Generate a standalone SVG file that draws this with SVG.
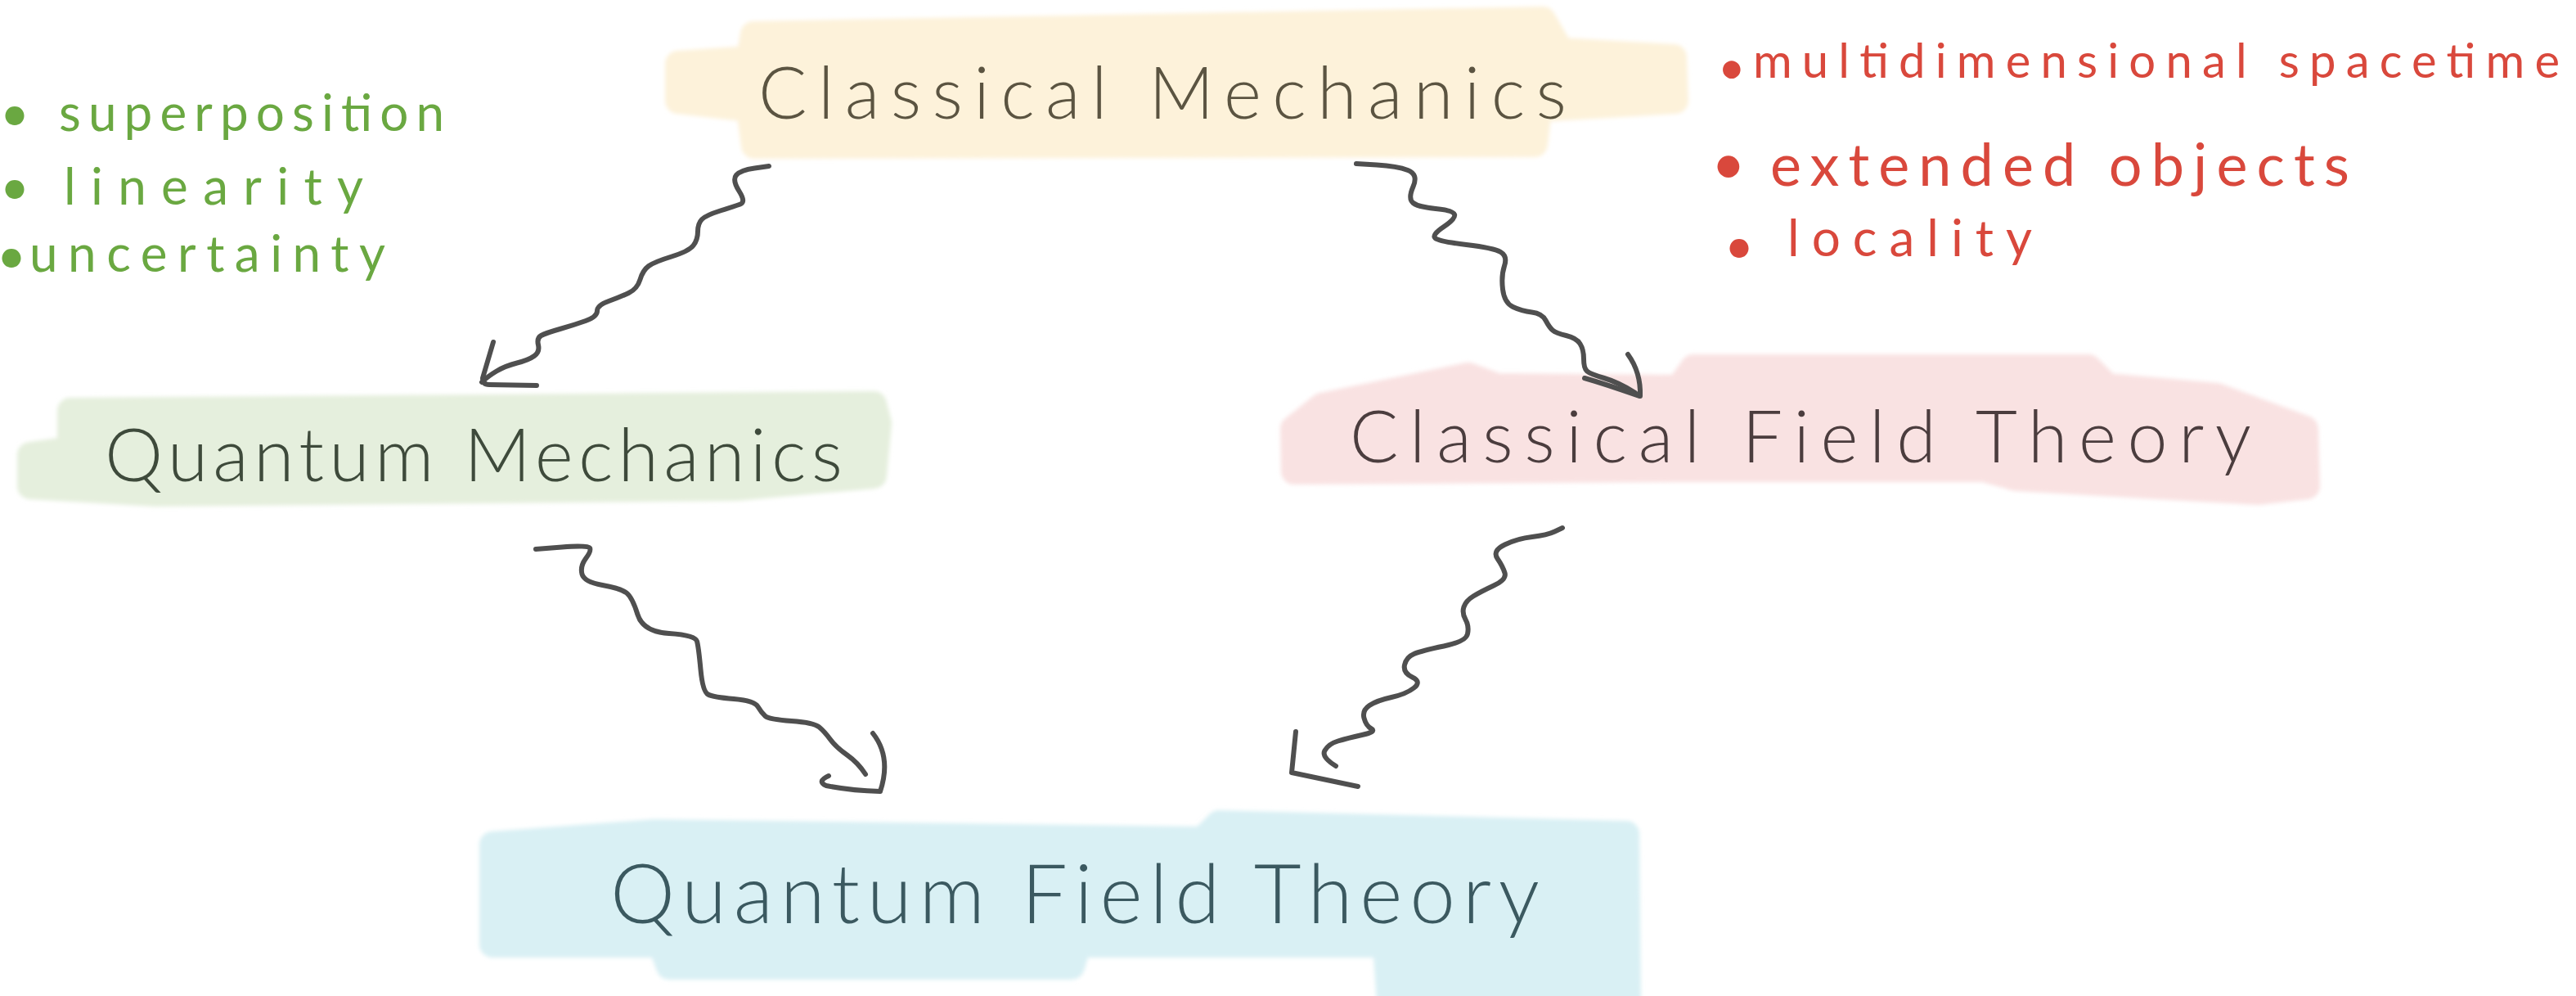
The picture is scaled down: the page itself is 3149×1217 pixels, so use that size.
<svg xmlns="http://www.w3.org/2000/svg" width="3149" height="1217" viewBox="0 0 3149 1217">
<defs>
<filter id="soft" x="-5%" y="-20%" width="110%" height="140%"><feGaussianBlur stdDeviation="2.5"/></filter>
</defs>
<style>
.blob{stroke-width:32;stroke-linejoin:round;filter:url(#soft)}
.lbl{font-family:Lato,"Open Sans","Liberation Sans",sans-serif;font-weight:300}
.note{font-family:Lato,"Open Sans","Liberation Sans",sans-serif;font-weight:400}
.wave{fill:none;stroke:#4f4f4f;stroke-width:6;stroke-linecap:round;stroke-linejoin:round}
.red{fill:#d9483c}
.green{fill:#6aa841}
</style>
<rect width="3149" height="1217" fill="#ffffff"/>
<g id="node-classical-mechanics">
<path class="blob" fill="#fdf2da" stroke="#fdf2da" d="M921,42 L1886,24 L1908,62 L2046,70 L2048,123 L1881,133 L1876,176 L922,178 L916,133 L829,123 L829,78 L916,72 Z"/>
<text class="lbl" x="927" y="145" font-size="88" fill="#5b5441" textLength="988" lengthAdjust="spacing">Classical Mechanics</text>
</g>
<g id="node-quantum-mechanics">
<path class="blob" fill="#e5efdd" stroke="#e5efdd" d="M86,502 L1068,494 L1074,517 L1068,581 L900,596 L190,603 L37,594 L37,556 L86,549 Z"/>
<text class="lbl" x="128" y="588" font-size="90" fill="#3e4a3b" textLength="902" lengthAdjust="spacing">Quantum Mechanics</text>
</g>
<g id="node-classical-field-theory">
<path class="blob" fill="#f9e2e2" stroke="#f9e2e2" d="M1616,496 L1795,459 L1830,472 L2052,474 L2070,449 L2553,449 L2576,472 L2710,484 L2818,524 L2820,594 L2760,601 L2465,584 L2425,573 L2045,573 L1582,576 L1581,524 Z"/>
<text class="lbl" x="1650" y="565" font-size="88" fill="#4b3d3e" textLength="1102" lengthAdjust="spacing">Classical Field Theory</text>
</g>
<g id="node-quantum-field-theory">
<path class="blob" fill="#d9f0f4" stroke="#d9f0f4" d="M602,1032 L800,1017 L1470,1026 L1490,1006 L1988,1019 L1990,1225 L1699,1225 L1694,1154 L1318,1154 L1310,1181 L818,1181 L808,1154 L602,1154 Z"/>
<text class="lbl" x="746" y="1128" font-size="100" fill="#3b5960" textLength="1136" lengthAdjust="spacing">Quantum Field Theory</text>
</g>
<g id="notes-quantum">
<text class="note green" font-size="62"><tspan x="0" y="160">•</tspan><tspan x="72" y="160" textLength="471" lengthAdjust="spacing">superposition</tspan></text>
<text class="note green" font-size="62"><tspan x="0" y="250">•</tspan><tspan x="78" y="250" textLength="366" lengthAdjust="spacing">linearity</tspan></text>
<text class="note green" font-size="62"><tspan x="-4" y="334">•</tspan><tspan x="36" y="332" textLength="435" lengthAdjust="spacing">uncertainty</tspan></text>
</g>
<g id="notes-field">
<text class="note red" font-size="58"><tspan x="2100" y="103">•</tspan><tspan x="2143" y="95" textLength="986" lengthAdjust="spacing">multidimensional spacetime</tspan></text>
<text class="note red" font-size="72"><tspan x="2092" y="225">•</tspan><tspan x="2164" y="227" textLength="708" lengthAdjust="spacing">extended objects</tspan></text>
<text class="note red" font-size="62"><tspan x="2108" y="322">•</tspan><tspan x="2185" y="313" textLength="299" lengthAdjust="spacing">locality</tspan></text>
</g>
<g id="connectors">
<path class="wave" d="M940,203 L922.5,205.5 Q905,208 900,214 Q895,220 903.5,233.5 Q912,247 905,249.5 Q898,252 880.5,257.5 Q863,263 858,268 Q853,273 853,283 Q853,293 847.5,300 Q842,307 821,313.5 Q800,320 793,325 Q786,330 782.5,341.5 Q779,353 768.5,358 Q758,363 744,368 Q730,373 730,380 Q730,387 716,392 Q702,397 684.5,402 Q667,407 661.5,410 Q656,413 658,421.5 Q660,430 653,435 Q646,440 632,443.5 Q618,447 607,453.5 Q596,460 589,467"/>
<path class="wave" d="M603,418 L590,462 Q590,470 598,470 L656,471"/>
<path class="wave" d="M1658,200 L1683,201.5 Q1708,203 1721,208 Q1734,213 1727.5,228 Q1721,243 1727.5,248 Q1734,253 1755,255 Q1776,257 1778,262 Q1780,267 1765,277 Q1750,287 1754.5,291 Q1759,295 1792.5,299 Q1826,303 1834.5,308 Q1843,313 1839,325 Q1835,337 1837,353.5 Q1839,370 1849.5,375 Q1860,380 1872.5,381.5 Q1885,383 1889.5,391.5 Q1894,400 1898,403.5 Q1902,407 1914.5,410 Q1927,413 1931.5,420 Q1936,427 1936,438.5 Q1936,450 1940,453.5 Q1944,457 1961,462 Q1978,467 1999,480"/>
<path class="wave" d="M1937,462 Q1965,470 2004,484 M1990,433 Q2006,455 2005,484"/>
<path class="wave" d="M655,671 L687,668.5 Q719,666 721,669.5 Q723,673 716,682.5 Q709,692 711.5,701.5 Q714,711 736.5,715 Q759,719 766,724.5 Q773,730 779.5,751 Q786,772 818,774 Q850,776 852,783.5 Q854,791 856.5,818 Q859,845 865.5,848.5 Q872,852 897,854 Q922,856 926.5,863.5 Q931,871 935.5,875 Q940,879 967.5,881 Q995,883 1001.5,888.5 Q1008,894 1015,903.5 Q1022,913 1035.5,922.5 Q1049,932 1058,946"/>
<path class="wave" d="M1013,948 Q998,955 1010,960 Q1040,966 1076,967 M1067,896 Q1090,925 1076,967"/>
<path class="wave" d="M1910,645 L1900.5,649.5 Q1891,654 1873,656 Q1855,658 1839.5,665.5 Q1824,673 1830.5,682.5 Q1837,692 1839.5,700 Q1842,708 1826,715.5 Q1810,723 1801,728.5 Q1792,734 1789.5,741.5 Q1787,749 1791.5,757 Q1796,765 1794,774.5 Q1792,784 1765,789.5 Q1738,795 1728.5,799 Q1719,803 1717,812.5 Q1715,822 1726.5,827.5 Q1738,833 1728.5,840.5 Q1719,848 1701,852 Q1683,856 1674,862 Q1665,868 1667.5,877.5 Q1670,887 1676.5,890.5 Q1683,894 1665,898 Q1647,902 1635.5,905.5 Q1624,909 1619.5,917 Q1615,925 1633,936"/>
<path class="wave" d="M1584,894 L1579,944 L1660,961"/>
</g>
</svg>
